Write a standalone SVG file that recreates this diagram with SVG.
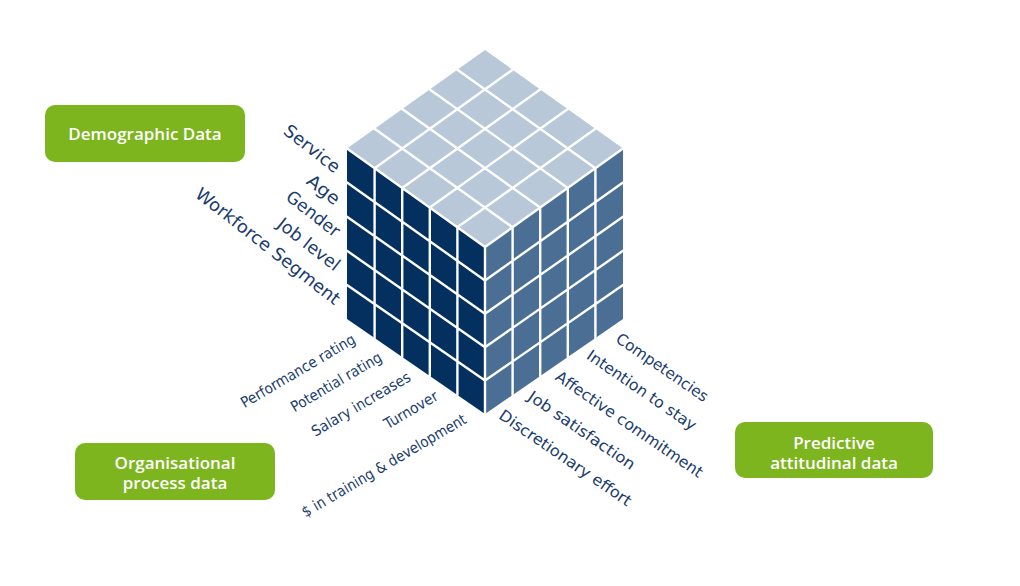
<svg xmlns="http://www.w3.org/2000/svg" width="1020" height="586" viewBox="0 0 1020 586">
<style>
.box{fill:#7cb51e}
.bt{font-family:"Open Sans","DejaVu Sans",sans-serif;font-weight:600;font-size:17px;fill:#ffffff;text-anchor:middle}
.lbl{font-family:"DejaVu Sans",sans-serif;fill:#1b3d6d;dominant-baseline:central}
.l1{font-size:17.5px}
.l2{font-family:"DejaVu Sans Condensed","DejaVu Sans",sans-serif;font-stretch:condensed;font-size:15px}
.l3{font-size:15.5px}
.grid{stroke:#ffffff;stroke-width:2.4;fill:none;stroke-linecap:round}
</style>
<rect width="1020" height="586" fill="#ffffff"/>
<g id="cube">
<polygon points="485,50 623,148.5 485,247 347,148.5" fill="#b8c8d8"/>
<polygon points="347,148.5 485,247 485,414 347,319" fill="#04305f"/>
<polygon points="485,247 623,148.5 623,319 485,414" fill="#4b6f94"/>
<path class="grid" d="M512.6,69.7L374.6,168.2M540.2,89.4L402.2,187.9M567.8,109.1L429.8,207.6M595.4,128.8L457.4,227.3
M457.4,69.7L595.4,168.2M429.8,89.4L567.8,187.9M402.2,109.1L540.2,207.6M374.6,128.8L512.6,227.3
M374.6,168.2L374.6,338M402.2,187.9L402.2,357M429.8,207.6L429.8,376M457.4,227.3L457.4,395
M347,182.6L485,280.4M347,216.7L485,313.8M347,250.8L485,347.2M347,284.9L485,380.6
M512.6,227.3L512.6,395M540.2,207.6L540.2,376M567.8,187.9L567.8,357M595.4,168.2L595.4,338
M485,280.4L623,182.6M485,313.8L623,216.7M485,347.2L623,250.8M485,380.6L623,284.9
M347,148.5L485,247L623,148.5M485,247L485,414"/>
</g>
<g id="demographic-data">
<rect class="box" x="45" y="105" width="200" height="57" rx="10"/>
<text class="bt" x="145" y="139.5">Demographic Data</text>
</g>
<g id="organisational-process-data">
<rect class="box" x="75" y="443" width="200" height="57" rx="10"/>
<text class="bt" x="175" y="468.5">Organisational</text>
<text class="bt" x="175" y="488.5">process data</text>
</g>
<g id="predictive-attitudinal-data">
<rect class="box" x="735" y="422" width="198" height="56" rx="10"/>
<text class="bt" x="834" y="449">Predictive</text>
<text class="bt" x="834" y="469">attitudinal data</text>
</g>
<g id="demographic-labels" class="lbl l1" text-anchor="end">
<text transform="translate(338,169) rotate(38)" textLength="66" lengthAdjust="spacingAndGlyphs">Service</text>
<text transform="translate(338,201) rotate(38)" textLength="37" lengthAdjust="spacingAndGlyphs">Age</text>
<text transform="translate(338,233) rotate(38)" textLength="63" lengthAdjust="spacingAndGlyphs">Gender</text>
<text transform="translate(338,267) rotate(38)" textLength="74" lengthAdjust="spacingAndGlyphs">Job level</text>
<text transform="translate(338,301) rotate(38)" textLength="178" lengthAdjust="spacingAndGlyphs">Workforce Segment</text>
</g>
<g id="process-labels" class="lbl l2" text-anchor="end">
<text transform="translate(354,338) rotate(-30.5)" textLength="130" lengthAdjust="spacingAndGlyphs">Performance rating</text>
<text transform="translate(380.6,356) rotate(-30.5)" textLength="103" lengthAdjust="spacingAndGlyphs">Potential rating</text>
<text transform="translate(409.3,375.8) rotate(-30.5)" textLength="112" lengthAdjust="spacingAndGlyphs">Salary increases</text>
<text transform="translate(436.8,394.7) rotate(-30.5)" textLength="60" lengthAdjust="spacingAndGlyphs">Turnover</text>
<text transform="translate(465,418) rotate(-30.5)" textLength="188" lengthAdjust="spacingAndGlyphs">$ in training &amp; development</text>
</g>
<g id="attitudinal-labels" class="lbl l3" text-anchor="start">
<text transform="translate(617.6,337.2) rotate(34.5)" textLength="108" lengthAdjust="spacingAndGlyphs">Competencies</text>
<text transform="translate(588.3,353.9) rotate(34.5)" textLength="129" lengthAdjust="spacingAndGlyphs">Intention to stay</text>
<text transform="translate(557,375) rotate(34.5)" textLength="175" lengthAdjust="spacingAndGlyphs">Affective commitment</text>
<text transform="translate(529.7,395) rotate(34.5)" textLength="126" lengthAdjust="spacingAndGlyphs">Job satisfaction</text>
<text transform="translate(500.5,413.7) rotate(34.5)" textLength="157" lengthAdjust="spacingAndGlyphs">Discretionary effort</text>
</g>
</svg>
